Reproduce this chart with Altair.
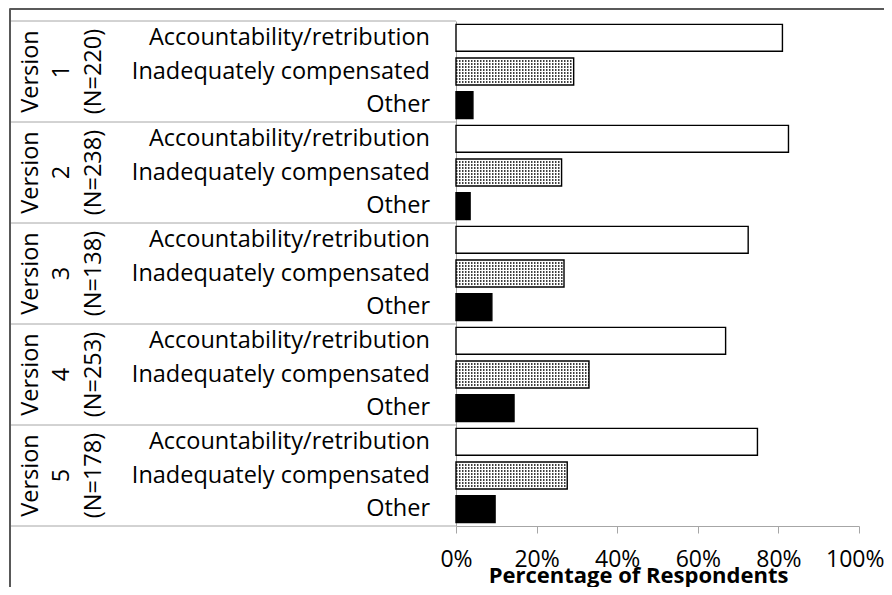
import altair as alt
import pandas as pd

versions = ["1", "2", "3", "4", "5"]
sample_sizes = [220, 238, 138, 253, 178]
categories = ["Accountability/retribution", "Inadequately compensated", "Other"]
accountability = [0.810, 0.825, 0.725, 0.669, 0.748]
inadequate = [0.292, 0.262, 0.268, 0.330, 0.276]
other = [0.042, 0.035, 0.089, 0.144, 0.097]
x_ticks = [0, 0.2, 0.4, 0.6, 0.8, 1.0]

series = [accountability, inadequate, other]
rows = []
for i, v in enumerate(versions):
    for c, vals in zip(categories, series):
        rows.append({"version": v, "category": c, "row": f"{v}|{c}",
                     "value": vals[i], "n": sample_sizes[i]})
df = pd.DataFrame(rows)
order = list(df["row"])
bounds = pd.DataFrame({"b": list(range(len(versions) + 1))})

FONT = "Open Sans"
FS = 23.5
W, H = 403, 505
PAD_L, PAD_T = 448, 13
SVG_W, SVG_H = 876, 579
GRID = "#a6a6a6"
FRAME = "#595959"

yscale = alt.Scale(domain=order, paddingInner=0.2, paddingOuter=0.1)
Y = alt.Y("row:N", scale=yscale,
          axis=alt.Axis(labels=False, ticks=False, title=None, domain=True,
                        domainColor=GRID, domainWidth=1))
Yn = alt.Y("row:N", scale=yscale, axis=None)

last_tick = f"datum.value == {x_ticks[-1]}"
bars = alt.Chart(df).mark_bar(stroke="black", strokeWidth=1.4).encode(
    x=alt.X("value:Q", scale=alt.Scale(domain=[0, 1]),
            axis=alt.Axis(values=x_ticks, format="%", grid=False, labelOverlap=False,
                          labelFlush=False,
                          labelAlign={"condition": {"test": last_tick, "value": "right"},
                                      "value": "center"},
                          labelOffset={"condition": {"test": last_tick, "value": 25},
                                       "value": 0},
                          domainColor=GRID, tickColor=GRID, tickSize=7,
                          labelFont=FONT, labelFontSize=23, labelColor="black",
                          labelPadding=15, labelBaseline="top",
                          title="Percentage of Respondents", titleFont=FONT,
                          titleFontSize=22, titleFontWeight="bold", titleColor="black",
                          titleX=182, titleY=56, titleAlign="center",
                          titleBaseline="alphabetic")),
    y=Y,
    fill=alt.Fill("category:N", scale=alt.Scale(domain=categories,
                  range=["white", "white", "black"]), legend=None),
)

# dotted texture for the "Inadequately compensated" bars
dots = []
for off in [-10.5, -7.5, -4.5, -1.5, 1.5, 4.5, 7.5, 10.5]:
    dots.append(
        alt.Chart(df).transform_filter(alt.datum.category == categories[1])
        .transform_calculate(zero="0")
        .mark_rule(color="black", strokeWidth=1.5, strokeDash=[1.5, 1.5], yOffset=off)
        .encode(x=alt.X("zero:Q"), x2=alt.X2("value"), y=Yn)
    )

cat_labels = alt.Chart(df).mark_text(align="right", baseline="middle", font=FONT,
                                     fontSize=FS, color="black").encode(
    x=alt.value(-26), y=Yn, text="category:N")

mid = alt.Chart(df).transform_filter(alt.datum.category == categories[1])
ver_word = mid.transform_calculate(t="'Version'").mark_text(
    angle=270, align="center", baseline="middle", font=FONT, fontSize=FS, color="black"
).encode(x=alt.value(-425), y=Yn, text="t:N")
ver_num = mid.mark_text(
    angle=270, align="center", baseline="middle", font=FONT, fontSize=FS, color="black"
).encode(x=alt.value(-394), y=Yn, text="version:N")
ver_n = mid.transform_calculate(t="'(N=' + datum.n + ')'").mark_text(
    angle=270, align="center", baseline="middle", font=FONT, fontSize=FS, color="black"
).encode(x=alt.value(-362), y=Yn, text="t:N")

seps = alt.Chart(bounds).mark_rule(color=GRID, strokeWidth=1).encode(
    y=alt.Y("b:Q", scale=alt.Scale(domain=[0, len(versions)], reverse=True, nice=False),
            axis=None),
    x=alt.value(-446), x2=alt.value(0))

frame_left = alt.Chart(bounds).mark_rule(color=FRAME, strokeWidth=1.4).encode(
    x=alt.value(-446), y=alt.value(-12.3), y2=alt.value(SVG_H - PAD_T))
frame_top = alt.Chart(bounds).mark_rule(color=FRAME, strokeWidth=1.4).encode(
    y=alt.value(-12.3), x=alt.value(-446), x2=alt.value(SVG_W - PAD_L))

chart = alt.layer(bars, *dots, cat_labels, ver_word, ver_num, ver_n, seps,
                  frame_left, frame_top
).resolve_scale(y="independent").properties(
    width=W, height=H,
    autosize=alt.AutoSizeParams(type="none"),
    padding={"left": PAD_L, "top": PAD_T, "right": SVG_W - PAD_L - W,
             "bottom": SVG_H - PAD_T - H},
).configure_view(stroke=None)

chart.save("out.html", embed_options={"renderer": "svg", "actions": False})
